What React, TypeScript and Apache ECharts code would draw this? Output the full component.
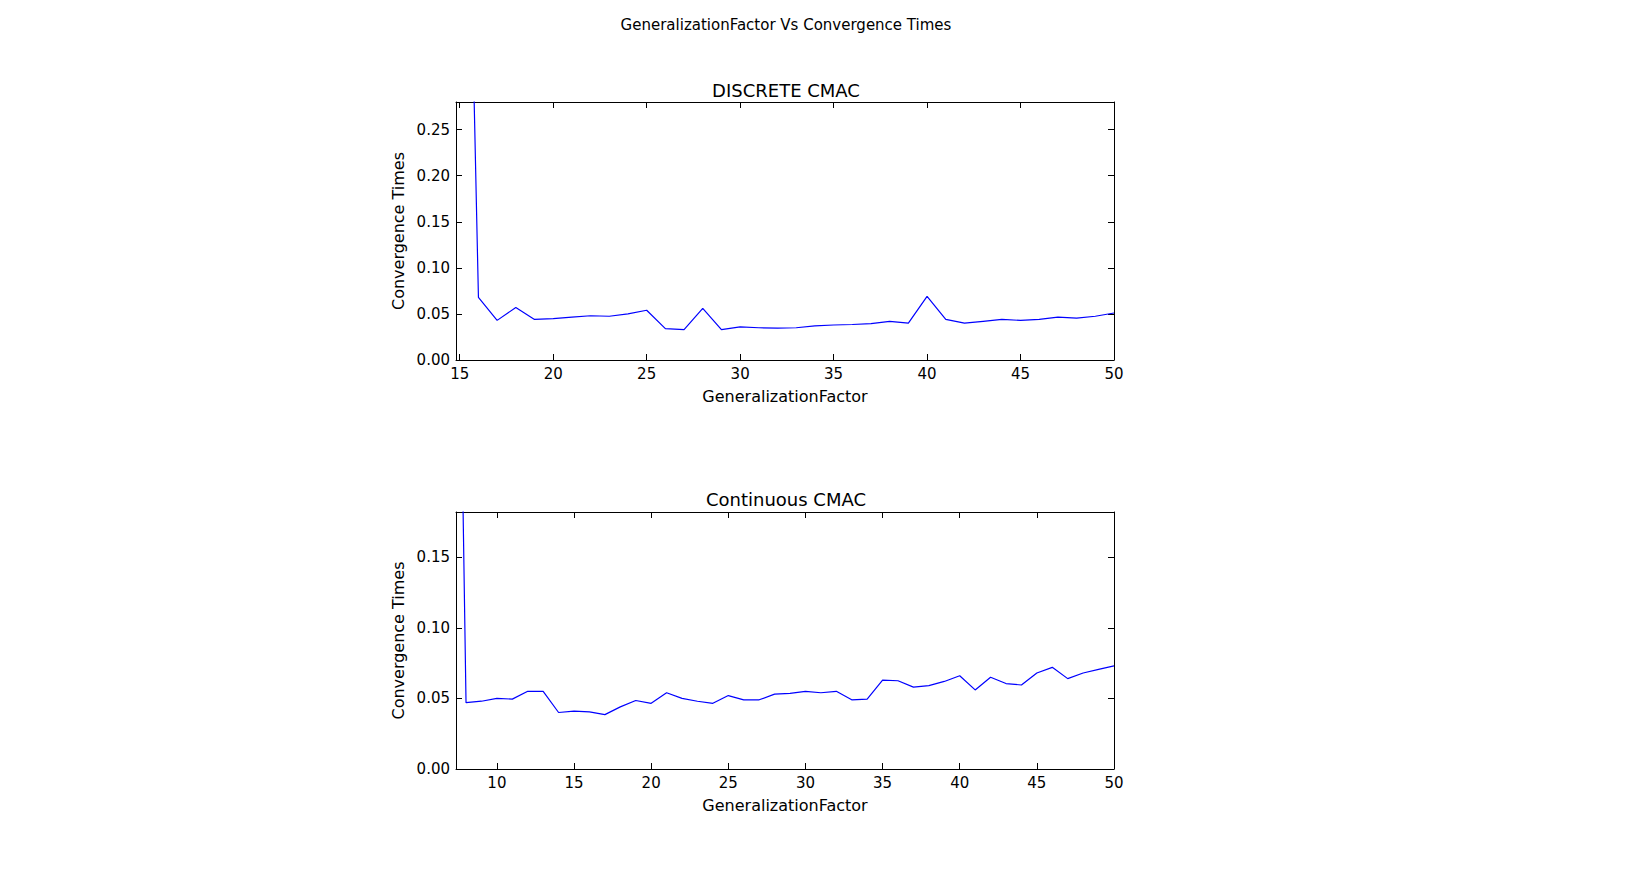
import React, { useEffect, useRef } from "react";
import * as echarts from "echarts";

const discreteX = [15,16,17,18,19,20,21,22,23,24,25,26,27,28,29,30,31,32,33,34,35,36,37,38,39,40,41,42,43,44,45,46,47,48,49,50];
const discreteY = [1.0,0.068,0.043,0.057,0.044,0.045,0.0465,0.048,0.0475,0.05,0.054,0.034,0.033,0.056,0.033,0.036,0.035,0.0345,0.035,0.037,0.038,0.0385,0.0395,0.042,0.04,0.069,0.044,0.04,0.042,0.044,0.043,0.044,0.0465,0.0455,0.0475,0.051];
const contX = [7,8,9,10,11,12,13,14,15,16,17,18,19,20,21,22,23,24,25,26,27,28,29,30,31,32,33,34,35,36,37,38,39,40,41,42,43,44,45,46,47,48,49,50];
const contY = [0.76,0.047,0.048,0.05,0.0495,0.055,0.055,0.04,0.041,0.0405,0.0385,0.044,0.0485,0.0465,0.054,0.05,0.048,0.0465,0.052,0.049,0.049,0.053,0.0535,0.055,0.054,0.055,0.049,0.0495,0.063,0.0625,0.058,0.059,0.062,0.066,0.056,0.065,0.0605,0.0595,0.068,0.072,0.064,0.068,0.0705,0.073];
const topXTicks = [15,20,25,30,35,40,45,50];
const topYTicks = [0,0.05,0.1,0.15,0.2,0.25];
const botXTicks = [10,15,20,25,30,35,40,45,50];
const botYTicks = [0,0.05,0.1,0.15];

const font = "DejaVu Sans";

function xAx(grid: number, min: number, ticks: number[], top: boolean) {
  return {
    type: "value", gridIndex: grid, min, max: 50, position: top ? "top" : "bottom",
    name: top ? "" : "GeneralizationFactor", nameLocation: "middle", nameGap: 28,
    nameTextStyle: { color: "#000", fontSize: 16, fontFamily: font },
    axisLine: { show: true, onZero: false, lineStyle: { color: "#000" } },
    axisTick: { show: true, inside: true, length: 6, customValues: ticks, lineStyle: { color: "#000" } },
    axisLabel: { show: !top, customValues: ticks, color: "#000", fontSize: 15, fontFamily: font, margin: 6 },
    splitLine: { show: false },
  };
}
function yAx(grid: number, max: number, ticks: number[], right: boolean) {
  return {
    type: "value", gridIndex: grid, min: 0, max, position: right ? "right" : "left",
    name: right ? "" : "Convergence Times", nameLocation: "middle", nameGap: 50,
    nameTextStyle: { color: "#000", fontSize: 16, fontFamily: font },
    axisLine: { show: true, onZero: false, lineStyle: { color: "#000" } },
    axisTick: { show: true, inside: true, length: 6, customValues: ticks, lineStyle: { color: "#000" } },
    axisLabel: { show: !right, customValues: ticks, color: "#000", fontSize: 15, fontFamily: font, margin: 6,
      formatter: (v: number) => v.toFixed(2) },
    splitLine: { show: false },
  };
}

export default function App() {
  const ref = useRef<HTMLDivElement>(null);
  useEffect(() => {
    const chart = echarts.init(ref.current!, undefined, { renderer: "svg" });
    chart.setOption({
      animation: false,
      backgroundColor: "#fff",
      title: [
        { text: "GeneralizationFactor Vs Convergence Times", left: 773, top: 4, textAlign: "center",
          textStyle: { fontSize: 15, fontWeight: "normal", color: "#000", fontFamily: font } },
        { text: "DISCRETE CMAC", left: 773, top: 68, textAlign: "center",
          textStyle: { fontSize: 18, fontWeight: "normal", color: "#000", fontFamily: font } },
        { text: "Continuous CMAC", left: 773, top: 477, textAlign: "center",
          textStyle: { fontSize: 18, fontWeight: "normal", color: "#000", fontFamily: font } },
      ],
      grid: [
        { left: 448, top: 94, width: 658, height: 258 },
        { left: 448, top: 504, width: 658, height: 257 },
      ],
      xAxis: [xAx(0, 14.8, topXTicks, false), xAx(0, 14.8, topXTicks, true), xAx(1, 7.35, botXTicks, false), xAx(1, 7.35, botXTicks, true)],
      yAxis: [yAx(0, 0.28, topYTicks, false), yAx(0, 0.28, topYTicks, true), yAx(1, 0.182, botYTicks, false), yAx(1, 0.182, botYTicks, true)],
      series: [
        { type: "line", xAxisIndex: 0, yAxisIndex: 0, data: discreteX.map((x, i) => [x, discreteY[i]]),
          showSymbol: false, clip: true, lineStyle: { color: "#0000ff", width: 1.2 } },
        { type: "line", xAxisIndex: 2, yAxisIndex: 2, data: contX.map((x, i) => [x, contY[i]]),
          showSymbol: false, clip: true, lineStyle: { color: "#0000ff", width: 1.2 } },
      ],
    });
    return () => chart.dispose();
  }, []);
  return <div ref={ref} style={{ width: 1610, height: 871 }} />;
}
